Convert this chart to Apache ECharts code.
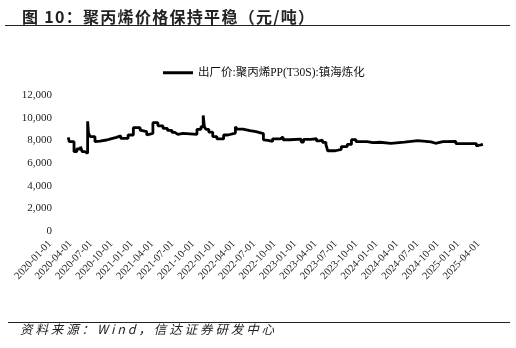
<!DOCTYPE html>
<html><head><meta charset="utf-8">
<script src="https://cdn.jsdelivr.net/npm/echarts@6/dist/echarts.min.js"></script>
<style>html,body{margin:0;padding:0;background:#fff}#c{width:516px;height:348px}</style>
</head><body><div id="c"></div>
<script>
const titleText = '图 10：聚丙烯价格保持平稳（元/吨）';
const sourceText = '资料来源：Wind，信达证券研发中心';
const seriesName = '出厂价:聚丙烯PP(T30S):镇海炼化';
const tickLabels = ['2020-01-01','2020-04-01','2020-07-01','2020-10-01','2021-01-01','2021-04-01','2021-07-01','2021-10-01','2022-01-01','2022-04-01','2022-07-01','2022-10-01','2023-01-01','2023-04-01','2023-07-01','2023-10-01','2024-01-01','2024-04-01','2024-07-01','2024-10-01','2025-01-01','2025-04-01'];
const dates = ['2020-03-22','2020-03-27','2020-04-17','2020-04-29','2020-05-16','2020-05-24','2020-06-05','2020-06-17','2020-06-21','2020-06-29','2020-07-20','2020-07-28','2020-08-12','2020-09-11','2020-10-03','2020-10-08','2020-10-25','2020-11-13','2020-12-16','2021-01-09','2021-02-08','2021-02-16','2021-03-08','2021-03-15','2021-04-05','2021-04-27','2021-05-20','2021-06-09','2021-06-29','2021-07-12','2021-07-26','2021-08-18','2021-10-20','2021-11-07','2021-11-17','2021-11-22','2021-11-29','2021-12-12','2021-12-30','2022-01-18','2022-02-16','2022-03-06','2022-04-09','2022-04-16','2022-05-12','2022-06-13','2022-07-10','2022-07-16','2022-08-13','2022-08-20','2022-09-03','2022-09-23','2022-10-28','2022-11-09','2022-12-10','2023-01-30','2023-02-09','2023-03-12','2023-04-07','2023-04-18','2023-05-03','2023-05-19','2023-05-27','2023-06-17','2023-06-30','2023-07-27','2023-08-23','2023-09-11','2023-10-01','2023-11-20','2023-12-16','2024-01-17','2024-03-05','2024-05-05','2024-07-04','2024-09-02','2024-09-22','2024-10-25','2024-12-22','2025-03-23','2025-03-29','2025-04-21'];
const prices = [8265,7880,7000,7235,7440,7000,6850,9680,8620,8320,7880,7940,8030,8150,8090,8265,8410,8180,8470,9120,8910,8760,8470,8620,9560,9280,9060,8880,8700,8530,8620,8530,8970,9200,10200,9200,8970,8720,8330,8120,8470,8640,9200,8990,8860,8760,8880,8600,8050,8000,7900,8130,8300,8050,8100,7850,8080,8140,7950,8020,7820,7620,7080,7080,7210,7450,7640,8060,7880,7790,7830,7730,7850,7980,7860,7740,7880,7910,7710,7500,7640,7640];

function monthIndex(s){
  const p = s.split('-').map(Number);
  const dim = new Date(p[0], p[1], 0).getDate();
  return (p[0]-2020)*12 + (p[1]-1) + (p[2]-1)/dim;
}
const seriesData = dates.map((d,i)=>[monthIndex(d), prices[i]]);

// letter spacing only for the title and source lines (both left-aligned)
const spacing = {};
spacing[titleText] = '1.3px';
spacing[sourceText] = '2.9px';
const origFill = CanvasRenderingContext2D.prototype.fillText;
CanvasRenderingContext2D.prototype.fillText = function(txt, x, y, mw){
  const sp = spacing[txt];
  if (sp) this.save();
  if (sp) this.letterSpacing = sp;
  else if (this.letterSpacing && this.letterSpacing !== '0px') this.letterSpacing = '0px';
  if (mw === undefined) origFill.call(this, txt, x, y); else origFill.call(this, txt, x, y, mw);
  if (sp) this.restore();
};

const chart = echarts.init(document.getElementById('c'), null, {renderer:'canvas'});
const serif = "'Liberation Serif','Times New Roman','Noto Sans CJK SC',serif";
const cjk = "'Noto Sans CJK SC',sans-serif";
chart.setOption({
  animation:false,
  backgroundColor:'#fff',
  title:{text:titleText,left:17,top:4,textStyle:{fontSize:16,fontWeight:'bold',color:'#222',fontFamily:cjk}},
  legend:{left:158,top:62,icon:'rect',itemWidth:30,itemHeight:3,itemGap:10,
    textStyle:{fontSize:11.5,color:'#111',fontFamily:serif},data:[seriesName]},
  grid:{left:50,right:30.8,top:95,bottom:117,containLabel:false},
  xAxis:{type:'value',min:0,max:64,interval:3,
    axisLine:{show:false},axisTick:{show:false},splitLine:{show:false},
    axisLabel:{rotate:47,margin:11,fontSize:10.5,color:'#222',fontFamily:serif,showMaxLabel:false,
      formatter:function(v){const i=Math.round(v); if(Math.abs(v-i)>1e-6||i%3||i>63) return ''; return tickLabels[i/3];}}},
  yAxis:{type:'value',min:0,max:12000,interval:2000,
    axisLine:{show:false},axisTick:{show:false},splitLine:{show:false},
    axisLabel:{margin:-2,fontSize:11,color:'#222',fontFamily:serif,
      formatter:function(v){return v.toLocaleString('en-US');}}},
  series:[{name:seriesName,type:'line',step:'end',data:seriesData,showSymbol:false,symbol:'none',
    lineStyle:{color:'#000',width:2.8},itemStyle:{color:'#000'}}],
  graphic:[
    {type:'line',shape:{x1:5,y1:25.5,x2:510,y2:25.5},style:{stroke:'#222',lineWidth:1.2}},
    {type:'line',shape:{x1:8,y1:322.5,x2:510,y2:322.5},style:{stroke:'#222',lineWidth:1.2}},
    {type:'text',left:20,top:323,style:{text:sourceText,fontSize:12.5,fontStyle:'italic',fill:'#222',fontFamily:cjk}}
  ]
});
</script></body></html>
